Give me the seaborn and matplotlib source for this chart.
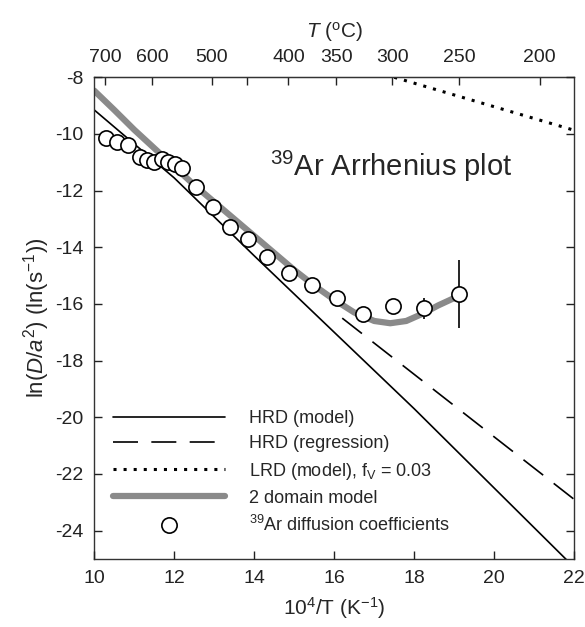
import matplotlib
matplotlib.use("Agg")
import matplotlib.pyplot as plt
import seaborn as sns
import numpy as np
from matplotlib.lines import Line2D

# 39Ar diffusion coefficients (x = 10^4/T, y = ln(D/a^2))
pt_x = [10.29, 10.56, 10.85, 11.14, 11.33, 11.49, 11.69, 11.85, 12.02, 12.19,
        12.54, 12.96, 13.39, 13.85, 14.33, 14.88, 15.44, 16.06, 16.73, 17.46,
        18.24, 19.13]
pt_y = [-10.15, -10.27, -10.39, -10.80, -10.92, -10.98, -10.89, -10.98, -11.06, -11.21,
        -11.86, -12.57, -13.29, -13.72, -14.33, -14.90, -15.33, -15.78, -16.37, -16.07,
        -16.15, -15.65]
pt_err = [0, 0, 0, 0, 0, 0, 0, 0, 0, 0,
          0, 0, 0, 0, 0, 0, 0, 0, 0, 0,
          0.37, 1.2]

# HRD (model)
hrd_x = [10, 12, 14, 16, 18, 20, 22]
hrd_y = [-9.15, -11.55, -14.3, -17.0, -19.7, -22.5, -25.3]

# HRD (regression)
reg_x = [16.2, 22]
reg_y = [-16.5, -22.9]

# LRD (model), fV = 0.03
lrd_x = [17.5, 22]
lrd_y = [-8.0, -9.87]

# 2 domain model
dom_x = [10.0, 10.5, 11.0, 11.5, 12.0, 12.5, 13.0, 13.5, 14.0, 14.5, 15.0,
         15.5, 16.0, 16.5, 17.0, 17.4, 17.8, 18.2, 18.6, 19.06]
dom_y = [-8.47, -9.15, -9.85, -10.5, -11.15, -11.8, -12.4, -13.0, -13.6, -14.2, -14.8,
         -15.35, -15.85, -16.3, -16.6, -16.68, -16.6, -16.35, -16.05, -15.75]

# top axis ticks (deg C)
top_ticks = [700, 600, 500, 450, 400, 350, 300, 250, 200]
top_labels = ["700", "600", "500", "", "400", "350", "300", "250", "200"]

sns.set_style("ticks")
plt.rcParams["font.family"] = ["Liberation Sans", "DejaVu Sans"]
plt.rcParams["mathtext.fontset"] = "custom"
plt.rcParams["mathtext.rm"] = "Liberation Sans"
plt.rcParams["mathtext.it"] = "Liberation Sans:italic"
plt.rcParams["mathtext.default"] = "regular"
plt.rcParams["axes.unicode_minus"] = False
# tick styling through rc only (tick_params hid the inner ticks here)
plt.rcParams.update({
    "xtick.direction": "in", "ytick.direction": "in",
    "xtick.major.size": 6, "ytick.major.size": 6,
    "xtick.major.width": 1, "ytick.major.width": 1,
    "xtick.major.pad": 8, "ytick.major.pad": 8,
    "xtick.labelsize": 14, "ytick.labelsize": 14,
    "xtick.color": "#222222", "ytick.color": "#222222",
    "xtick.bottom": True, "xtick.top": False,
    "ytick.left": True, "ytick.right": True,
    "axes.axisbelow": False,
})

fig = plt.figure(figsize=(5.85, 6.27), dpi=100)
ax = fig.add_axes([0.161, 0.1085, 0.8207, 0.7682])

gray = "#8a8a8a"
sns.lineplot(x=dom_x, y=dom_y, ax=ax, color=gray, linewidth=4.5, sort=False,
             estimator=None, zorder=2)
sns.lineplot(x=hrd_x, y=hrd_y, ax=ax, color="black", linewidth=1.2, sort=False,
             estimator=None, zorder=1)
ax.plot(reg_x, reg_y, color="black", linewidth=1.2, linestyle=(0, (15, 8)), zorder=1)
ax.plot(lrd_x, lrd_y, color="black", linewidth=2.2, linestyle=(0, (1, 2.3)), zorder=1)

ax.errorbar(pt_x, pt_y, yerr=pt_err, fmt="none", ecolor="black", elinewidth=1.2,
            capsize=0, zorder=3)
sns.scatterplot(x=pt_x, y=pt_y, ax=ax, s=120, facecolor="white", edgecolor="black",
                linewidth=1.2, zorder=4)

ax.set_xlim(10, 22)
ax.set_ylim(-25, -8)
ax.set_xticks(np.arange(10, 23, 2))
ax.set_yticks(np.arange(-24, -7, 2))
for s in ax.spines.values():
    s.set_linewidth(1)
    s.set_color("#333333")

ax.set_xlabel("10$^4$/T (K$^{-1}$)", fontsize=15, labelpad=6)
ax.set_ylabel("ln($\\mathit{D/a}^2$) (ln(s$^{-1}$))", fontsize=16, labelpad=2)

top = ax.secondary_xaxis("top", functions=(lambda x: 1e4 / np.asarray(x, float) - 273.15,
                                           lambda t: 1e4 / (np.asarray(t, float) + 273.15)))
top.set_xticks(top_ticks)
top.set_xticklabels(top_labels)
top.set_xlabel("$\\mathit{T}$ ($^{o}$C)", fontsize=15, labelpad=8)

ax.text(14.4, -11.15, "$^{39}$Ar Arrhenius plot", fontsize=21, va="center", ha="left")

handles = [
    Line2D([], [], color="black", linewidth=1.2),
    Line2D([], [], color="black", linewidth=1.2, linestyle=(0, (15, 8))),
    Line2D([], [], color="black", linewidth=2.2, linestyle=(0, (1, 2.3))),
    Line2D([], [], color=gray, linewidth=4.5),
    Line2D([], [], color="black", marker="o", markersize=11, markerfacecolor="white",
           linestyle="none", markeredgewidth=1.2),
]
labels = ["HRD (model)", "HRD (regression)", "LRD (model), f$_V$ = 0.03",
          "2 domain model", "$^{39}$Ar diffusion coefficients"]
ax.legend(handles, labels, loc="lower left", bbox_to_anchor=(0.04, 0.05),
          frameon=False, fontsize=13, handlelength=6.2, handletextpad=1.3,
          labelspacing=0.45, borderpad=0, borderaxespad=0)

fig.savefig("out.png", dpi=100)
